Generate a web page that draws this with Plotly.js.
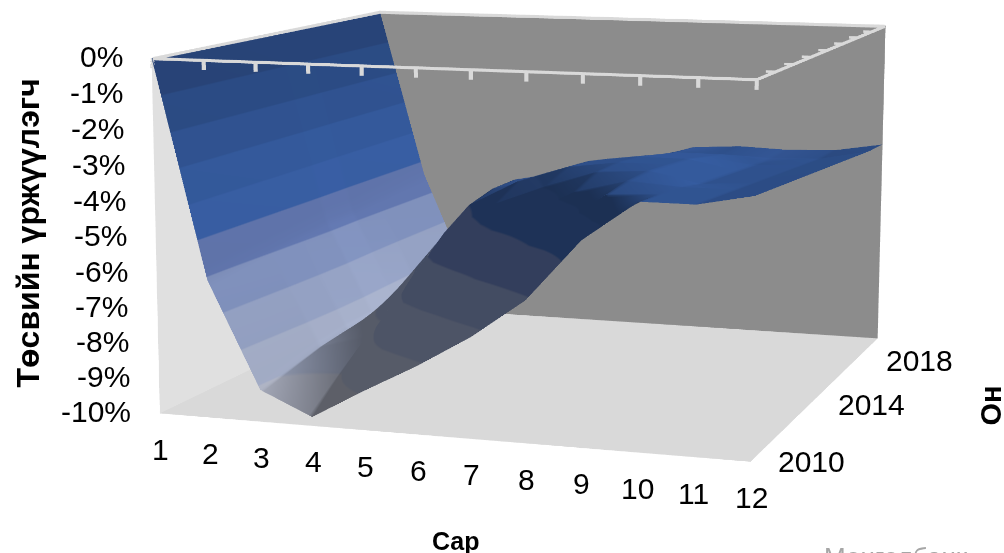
<!DOCTYPE html>
<html><head><meta charset="utf-8">
<script src="https://cdn.plot.ly/plotly-3.0.1.min.js"></script>
<style>html,body{margin:0;padding:0;width:1004px;height:553px;overflow:hidden;background:#fff}
#chart{position:absolute}</style></head><body>
<div id="chart"></div>
<script>
const months=[1,2,3,4,5,6,7,8,9,10,11,12];
const years=[2010,2011,2012,2013,2014,2015,2016,2017,2018];
const yearTicks=[2010,2014,2018];
const pctTicks=[0,-1,-2,-3,-4,-5,-6,-7,-8,-9,-10];
const y2010=[0,-6.1,-9.1,-9.75,-8.9,-8.1,-7.2,-6.1,-4.4,-3.3,-3.3,-3.0];
const y2011=[0,-6.0,-8.9,-9.0,-7.5,-6.6,-5.6,-4.6,-3.5,-3.4,-3.4,-3.1];
const y2012=[0,-5.9,-8.7,-8.3,-6.3,-5.3,-4.6,-3.8,-3.4,-3.5,-3.5,-3.2];
const y2013=[0,-5.8,-8.6,-7.6,-5.5,-4.6,-4.0,-3.5,-3.4,-3.7,-3.6,-3.3];
const y2014=[0,-5.7,-8.6,-6.8,-5.0,-4.2,-3.7,-3.5,-3.5,-3.8,-3.7,-3.4];
const y2015=[0,-5.7,-8.7,-6.3,-4.8,-4.4,-3.8,-3.6,-3.6,-3.9,-3.8,-3.5];
const y2016=[0,-5.6,-8.8,-5.9,-4.8,-4.5,-4.0,-3.8,-3.8,-4.0,-3.9,-3.6];
const y2017=[0,-5.5,-8.8,-5.8,-5.0,-4.8,-4.3,-4.0,-4.0,-4.05,-4.0,-3.7];
const y2018=[0,-5.4,-8.8,-5.7,-5.1,-5.15,-4.6,-4.1,-4.0,-4.05,-4.0,-3.75];
const bandColors=['#dde3f8','#ccd8f8','#b8c8f2','#9fb4ea','#7a94da','#4878d0','#4272c6','#3d69b8','#3760a8','#335698'];
const K=4, W=1004, H=553;
const px=x=>(x+W*(K-1)/2)/(W*K), py=y=>1-(y+H*(K-1)/2)/(H*K);
const chartDiv=document.getElementById('chart');
chartDiv.style.left=(-W*(K-1)/2)+'px';chartDiv.style.top=(-H*(K-1)/2)+'px';

const scale=[];
bandColors.forEach((c,i)=>{scale.push([i/10,c]);scale.push([(i+1)/10,c]);});

const line=(xs,ys,zs,w)=>({type:'scatter3d',mode:'lines',x:xs,y:ys,z:zs,line:{color:'#d9d9d9',width:w||6},hoverinfo:'skip',showlegend:false});
const traces=[{type:'surface',x:months,y:years,z:[y2010,y2011,y2012,y2013,y2014,y2015,y2016,y2017,y2018],
  colorscale:scale,cmin:-10,cmax:0,showscale:false,hoverinfo:'skip',
  lighting:{ambient:0.42,diffuse:1.5,specular:0,roughness:0.5,fresnel:0},
  lightposition:{x:10000,y:9000,z:0}}];
const xEnd=11.99, yStart=2010.02, yEnd=2017.98, zTop=-0.02;
traces.push(line([1.01,xEnd,xEnd,1.01,1.01],[yStart,yStart,yEnd,yEnd,yStart],[zTop,zTop,zTop,zTop,zTop]));
months.forEach(m=>traces.push(line([Math.min(m,xEnd),Math.min(m,xEnd)],[yStart,yStart],[zTop,-0.28],8)));
years.forEach(y=>traces.push(line([xEnd,11.82],[y,y].map(v=>Math.min(Math.max(v,yStart),yEnd)),[zTop,zTop],5)));

const tf={family:'Liberation Sans, Arial, sans-serif',size:30,color:'#000'};
const ax={showgrid:false,zeroline:false,showline:false,showspikes:false,ticks:'',showticklabels:false,showbackground:true,title:{text:''}};
const sceneNotes=[];
pctTicks.forEach(v=>sceneNotes.push({x:1,y:2010,z:v,text:v+'%',showarrow:false,xanchor:'right',yanchor:'middle',xshift:-27,yshift:2,font:tf}));
months.forEach(m=>sceneNotes.push({x:Math.min(m,11.999),y:2010,z:-10,text:String(m),showarrow:false,xanchor:'center',yanchor:'middle',yshift:-36,xshift:1,font:tf}));
yearTicks.forEach((y,i)=>sceneNotes.push({x:11.999,y:Math.min(y,2017.999),z:-10,text:String(y),showarrow:false,xanchor:'left',yanchor:'middle',xshift:26-10*i,yshift:-11*i,font:tf}));
const c={x:-0.061,y:-0.046,z:-0.120};
const layout={width:W*K,height:H*K,margin:{l:0,r:0,t:0,b:0},paper_bgcolor:'#fff',showlegend:false,
 scene:{domain:{x:[0,1],y:[0,1]},aspectmode:'manual',aspectratio:{x:1.03,y:1.03,z:0.605},
  camera:{center:c,eye:{x:1.538+c.x,y:-4.466+c.y,z:0.85+c.z},up:{x:0,y:0,z:1}},
  xaxis:Object.assign({},ax,{range:[1,12],backgroundcolor:'#e0e0e0'}),
  yaxis:Object.assign({},ax,{range:[2010,2018],backgroundcolor:'#8c8c8c'}),
  zaxis:Object.assign({},ax,{range:[-10,0],backgroundcolor:'#d9d9d9'}),
  annotations:sceneNotes
 },
 annotations:[
  {text:'<b>Төсвийн үржүүлэгч</b>',x:px(27),y:py(233),xref:'paper',yref:'paper',textangle:-90,showarrow:false,font:{family:'Liberation Sans, Arial',size:32,color:'#000'}},
  {text:'<b>Сар</b>',x:px(456),y:py(540),xref:'paper',yref:'paper',showarrow:false,font:{family:'Liberation Sans, Arial',size:25,color:'#000'}},
  {text:'<b>Он</b>',x:px(990),y:py(405),xref:'paper',yref:'paper',textangle:-90,showarrow:false,font:{family:'Liberation Sans, Arial',size:29,color:'#000'}},
  {text:'Монголбанк',x:px(822),y:py(556),xref:'paper',yref:'paper',xanchor:'left',showarrow:false,font:{family:'Liberation Sans, Arial',size:26,color:'#a6a6a6'}}
 ]};
Plotly.newPlot('chart',traces,layout,{displayModeBar:false});
</script></body></html>
